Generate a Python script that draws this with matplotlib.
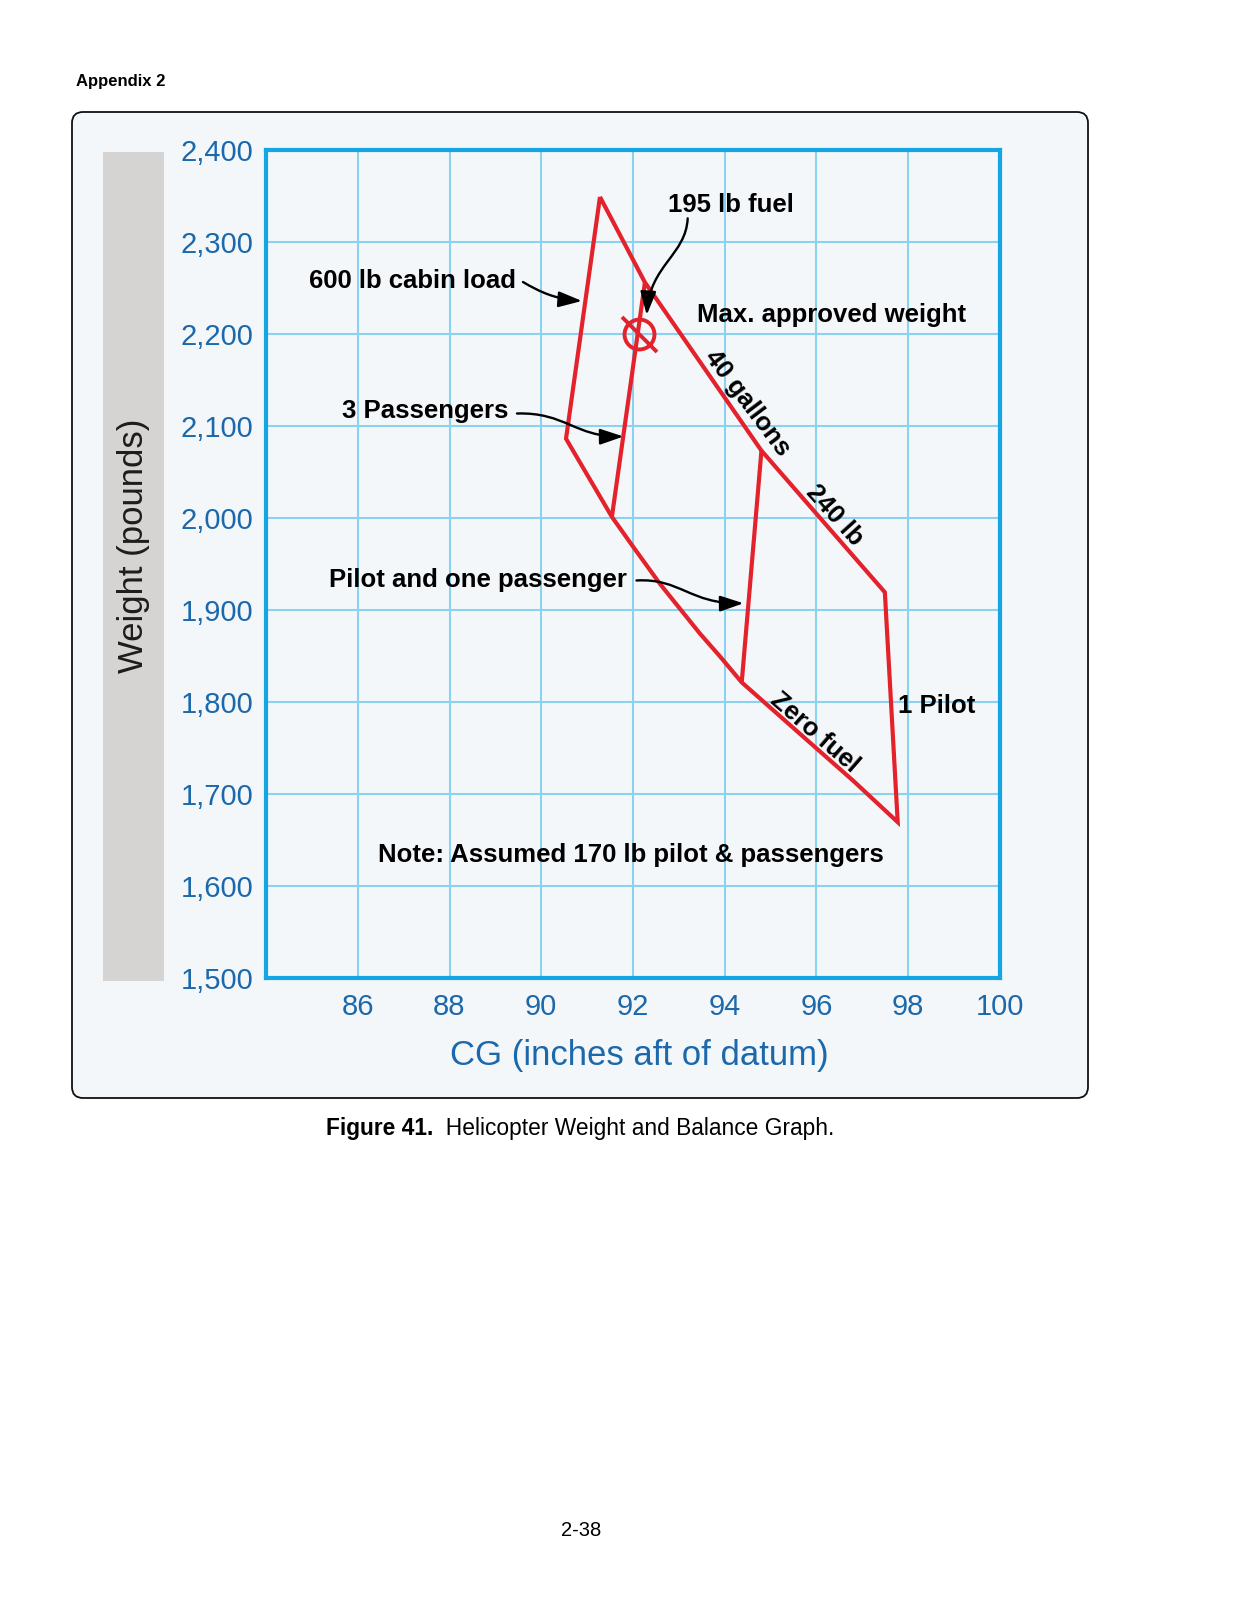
import matplotlib
matplotlib.use('Agg')
import matplotlib.pyplot as plt
from matplotlib.patches import FancyBboxPatch, Rectangle, FancyArrowPatch
from matplotlib.path import Path
from matplotlib.text import Annotation

plt.rcParams['font.family'] = ['Liberation Sans', 'DejaVu Sans']

# ---------------- data ----------------
envelope_cg = [91.28, 92.26, 94.80, 97.49, 97.77, 96.80, 95.64, 94.37, 93.90, 93.46,
               93.17, 92.59, 92.01, 91.54, 90.54, 91.28]
envelope_wt = [2349, 2256, 2073, 1919, 1669, 1714, 1765, 1821, 1849, 1874,
               1892, 1928, 1968, 2001, 2086, 2349]
three_pass_cg = [91.54, 92.26]
three_pass_wt = [2001, 2256]
pilot_one_cg = [94.37, 94.80]
pilot_one_wt = [1821, 2073]
marker_cg = [92.14]
marker_wt = [2200]

x_ticks = [86, 88, 90, 92, 94, 96, 98, 100]
x_tick_labels = ['86', '88', '90', '92', '94', '96', '98', '100']
y_ticks = [1500, 1600, 1700, 1800, 1900, 2000, 2100, 2200, 2300, 2400]
y_tick_labels = ['1,500', '1,600', '1,700', '1,800', '1,900', '2,000', '2,100', '2,200', '2,300', '2,400']

# ---------------- styles ----------------
W, H = 1238, 1613
RED = '#e3222b'
BLUE_TXT = '#1b68ab'
SPINE = '#14a6e2'
GRID = '#8ad2f0'
BG = '#f4f7fa'

fig = plt.figure(figsize=(W / 100, H / 100), dpi=100)
fig.patch.set_facecolor('white')

# outer rounded box
box = FancyBboxPatch((0.72, (H - 1098) / 100), 10.16, 9.86,
                     boxstyle='round,pad=0,rounding_size=0.11',
                     transform=fig.dpi_scale_trans, facecolor=BG,
                     edgecolor='#111111', linewidth=1.3, zorder=-2)
fig.patches.append(box)

# gray bar behind y label
bar = Rectangle((103 / W, 1 - 981 / H), 61 / W, 829 / H, transform=fig.transFigure,
                facecolor='#d5d4d2', edgecolor='none', zorder=-1)
fig.patches.append(bar)

ax = fig.add_axes([266 / W, 1 - 977.5 / H, 734 / W, 827.5 / H])
ax.set_facecolor(BG)
ax.set_xlim(84, 100)
ax.set_ylim(1500, 2400)
ax.set_xticks(x_ticks)
ax.set_xticklabels(x_tick_labels)
ax.set_yticks(y_ticks)
ax.set_yticklabels(y_tick_labels)
ax.tick_params(length=0, labelsize=21, labelcolor=BLUE_TXT)
ax.tick_params(axis='x', pad=11)
ax.tick_params(axis='y', pad=9)
ax.grid(True, color=GRID, linewidth=1.5)
ax.set_axisbelow(True)
for s in ax.spines.values():
    s.set_color(SPINE)
    s.set_linewidth(3)

ax.set_xlabel('CG (inches aft of datum)', fontsize=25, color=BLUE_TXT, va='center')
ax.xaxis.set_label_coords(0.508, -0.0937)
ax.set_ylabel('Weight (pounds)', fontsize=25, color='#1c1c1c', va='center')
ax.yaxis.set_label_coords(-0.1805, 0.5215)

# envelope lines
line_kw = dict(color=RED, linewidth=3.0, solid_joinstyle='miter', solid_capstyle='butt', zorder=3)
ax.plot(envelope_cg, envelope_wt, **line_kw)
ax.plot(three_pass_cg, three_pass_wt, **line_kw)
ax.plot(pilot_one_cg, pilot_one_wt, **line_kw)

# circle marker with slash
circ = Path.circle((0, 0), 1.0)
slash = Path([(-1.17, 1.17), (1.17, -1.17)], [Path.MOVETO, Path.LINETO])
mk = Path.make_compound_path(circ, slash)
ax.plot(marker_cg, marker_wt, linestyle='none', marker=mk, markersize=25.2,
        markerfacecolor='none', markeredgecolor=RED, markeredgewidth=2.8, zorder=4)

# text labels
tkw = dict(fontsize=18.5, fontweight='bold', color='black', zorder=5)
ax.text(89.46, 2250.4, '600 lb cabin load', ha='right', va='baseline', **tkw)
ax.text(92.77, 2332.2, '195 lb fuel', ha='left', va='baseline', **tkw)
ax.text(93.40, 2213.3, 'Max. approved weight', ha='left', va='baseline', **tkw)
ax.text(89.28, 2109.0, '3 Passengers', ha='right', va='baseline', **tkw)
ax.text(91.87, 1924.2, 'Pilot and one passenger', ha='right', va='baseline', **tkw)
ax.text(97.78, 1787.3, '1 Pilot', ha='left', va='baseline', **tkw)
ax.text(91.96, 1625.6, 'Note: Assumed 170 lb pilot & passengers', ha='center', va='baseline', **tkw)
ax.text(94.49, 2124.5, '40 gallons', rotation=-53, rotation_mode='anchor', ha='center', va='center', **tkw)
ax.text(96.40, 2002.3, '240 lb', rotation=-48, rotation_mode='anchor', ha='center', va='center', **tkw)
ax.text(95.96, 1767.0, 'Zero fuel', rotation=-41, rotation_mode='anchor', ha='center', va='center', **tkw)

# curved arrows
arrows = [
    [(89.602, 2256.4), (89.973, 2245.6), (90.300, 2237.9), (90.888, 2235.8)],
    [(93.192, 2325.7), (93.155, 2285.8), (92.371, 2274.9), (92.299, 2220.5)],
    [(89.471, 2113.4), (90.518, 2115.0), (90.736, 2087.9), (91.793, 2088.4)],
    [(92.076, 1931.8), (93.025, 1934.5), (93.243, 1906.2), (94.409, 1907.0)],
]
for pts in arrows:
    p = Path(pts, [Path.MOVETO, Path.CURVE4, Path.CURVE4, Path.CURVE4])
    a = FancyArrowPatch(path=p, arrowstyle='-|>,head_length=0.95,head_width=0.32',
                        mutation_scale=15, color='black', linewidth=1.7,
                        shrinkA=0, shrinkB=0, zorder=6)
    ax.add_patch(a)

# page texts
fig.text(75.5 / W, 1 - 86 / H, 'Appendix 2', fontsize=12, fontweight='bold', ha='left', va='baseline')
t1 = fig.text(326 / W, 1 - 1135 / H, 'Figure 41.', fontsize=16.4, fontweight='bold', ha='left', va='baseline')
cap2 = Annotation('  Helicopter Weight and Balance Graph.', xy=(1, 0), xycoords=t1,
                  ha='left', va='bottom', fontsize=16.4)
fig.add_artist(cap2)
fig.text(581 / W, 1 - 1536 / H, '2-38', fontsize=14.5, ha='center', va='baseline')

fig.savefig('out.png', dpi=100)
